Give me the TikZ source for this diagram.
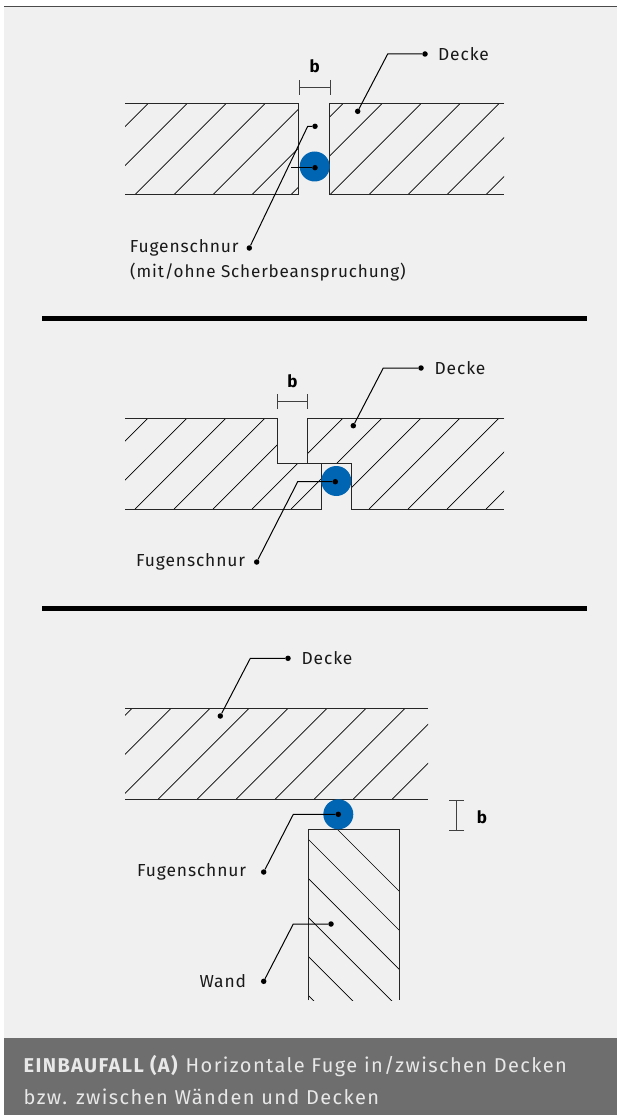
\documentclass[tikz,border=0pt]{standalone}
\usepackage{fontspec}
\setmainfont[LetterSpace=5.0]{Fira Sans}
\newfontfamily\captionfont[LetterSpace=7.0]{Fira Sans}
\usetikzlibrary{positioning,arrows.meta}
\definecolor{panelgrey}{HTML}{F0F0F0}
\definecolor{bandgrey}{HTML}{6E6E6E}
\definecolor{topgrey}{HTML}{4A4A4A}
\definecolor{cordblue}{HTML}{0066B3}
\definecolor{captiongrey}{HTML}{E8E8E8}
\begin{document}
\begin{tikzpicture}[x=1pt,y=-1pt]
	\tikzstyle{hatch} = [black, line width=0.7pt];
	\tikzstyle{outline} = [black!85, line width=1pt];
	\tikzstyle{cord} = [circle, fill=cordblue, inner sep=0pt, minimum size=30pt];
	\tikzstyle{tip} = [circle, fill=black, inner sep=0pt, minimum size=5.5pt];
	\tikzstyle{leader} = [black, line width=1pt];
	\tikzstyle{measure} = [black!75, line width=0.9pt, {Bar[width=15pt]}-{Bar[width=15pt]}];
	\tikzstyle{divider} = [black, line width=5.2pt];
	\tikzstyle{callout} = [inner sep=0pt, font=\fontsize{17.4}{20}\selectfont, text=black!90];
	\tikzstyle{dimtext} = [inner sep=0pt, font=\fontsize{17}{20}\selectfont\bfseries];
	\tikzstyle{caption} = [inner sep=0pt, anchor=west, text=captiongrey, font=\fontsize{20}{24}\captionfont];

	\useasboundingbox (0,0) rectangle (617,1115);
	\fill[panelgrey] (4,7) rectangle (617,1038);
	\fill[bandgrey] (4,1038) rectangle (617,1115);
	\draw[topgrey, line width=1.6pt] (4,6.5) -- (617,6.5);

	\draw[divider] (42,318.5) -- (587,318.5);
	\draw[divider] (42,608.7) -- (587,608.7);

	% first joint
	\begin{scope}
		\clip (125,104) rectangle (298.7,194.7) (329.7,104) rectangle (504,194.7);
		\foreach \k in {-3,...,10}
			\draw[hatch] (135+39*\k,194.7) -- (225.7+39*\k,104);
	\end{scope}
	\draw[outline] (125,104) -- (298.7,104) -- (298.7,194.7) -- (125,194.7);
	\draw[outline] (504,104) -- (329.7,104) -- (329.7,194.7) -- (504,194.7);
	\node[cord] (cordA) at (314.7,166.5) {};

	\node[tip] (deckeAend) at (357.7,111.3) {};
	\node[tip] (deckeAdot) at (425,54) {};
	\coordinate (deckeAbend) at (387.7,54);
	\node[callout, right=10pt of deckeAdot] (deckeA) {Decke};
	\draw[leader] (deckeAdot) -- (deckeAbend) -- (deckeAend);

	\node[tip] (fugeAdot) at (249.3,248) {};
	\node[tip] (fugeAup) at (315,126.3) {};
	\node[tip] (fugeAcord) at (315,167.7) {};
	\coordinate (fugeAbend) at (307.7,126.3);
	\coordinate (fugeAjoin) at (291,167.7);
	\draw[leader] (fugeAdot) -- (fugeAbend) -- (fugeAup);
	\draw[leader] (fugeAjoin) -- (fugeAcord);
	\node[callout, left=7.5pt of fugeAdot] (fugeA) {Fugenschnur};
	\node[callout, anchor=west, font=\fontsize{17.1}{20}\selectfont] (fugeAsub) at (130,272) {(mit/ohne Scherbeanspruchung)};

	\coordinate (bAl) at (298.7,87.3);
	\coordinate (bAr) at (330.5,87.3);
	\draw[measure] (bAl) -- (bAr);
	\node[dimtext, above=14pt of bAl, xshift=16pt] (bA) {b};

	% second joint
	\begin{scope}
		\clip (125,418.3) -- (277.3,418.3) -- (277.3,463.7) -- (321.3,463.7) -- (321.3,509) -- (125,509) -- cycle
			(307.7,418.3) -- (504,418.3) -- (504,509) -- (351.3,509) -- (351.3,463.7) -- (307.7,463.7) -- cycle;
		\foreach \k in {-3,...,10}
			\draw[hatch] (135+39*\k,509) -- (225.7+39*\k,418.3);
	\end{scope}
	\draw[outline] (125,418.3) -- (277.3,418.3) -- (277.3,463.7) -- (321.3,463.7) -- (321.3,509) -- (125,509);
	\draw[outline] (504,418.3) -- (307.7,418.3) -- (307.7,463.7) -- (351.3,463.7) -- (351.3,509) -- (504,509);
	\node[cord] (cordB) at (336.3,481) {};

	\node[tip] (deckeBend) at (353.3,425.7) {};
	\node[tip] (deckeBdot) at (421,368) {};
	\coordinate (deckeBbend) at (383.3,368);
	\node[callout, right=10.5pt of deckeBdot] (deckeB) {Decke};
	\draw[leader] (deckeBdot) -- (deckeBbend) -- (deckeBend);

	\node[tip] (fugeBdot) at (256.7,562) {};
	\node[tip] (fugeBcord) at (335.3,481.7) {};
	\coordinate (fugeBbend) at (297.7,481.7);
	\draw[leader] (fugeBdot) -- (fugeBbend) -- (fugeBcord);
	\node[callout, left=8.5pt of fugeBdot] (fugeB) {Fugenschnur};

	\coordinate (bBl) at (277,401.7);
	\coordinate (bBr) at (308.3,401.7);
	\draw[measure] (bBl) -- (bBr);
	\node[dimtext, above=14pt of bBl, xshift=15.5pt] (bB) {b};

	% ceiling and wall
	\begin{scope}
		\clip (125,708.3) rectangle (428,799);
		\foreach \k in {-3,...,8}
			\draw[hatch] (158.3+39*\k,799) -- (249+39*\k,708.3);
	\end{scope}
	\draw[outline] (125,708.3) -- (428,708.3);
	\draw[outline] (125,799) -- (428,799);

	\begin{scope}
		\clip (308.3,829.3) rectangle (399,1000);
		\foreach \k in {-1,...,6}
			\draw[hatch] (308.3,839.3+39*\k) -- (478.3,1009.3+39*\k);
	\end{scope}
	\draw[outline] (308.3,1000) -- (308.3,829.3) -- (399,829.3) -- (399,1000);
	\node[cord] (cordC) at (338.3,814.3) {};

	\node[tip] (deckeCend) at (220.3,716) {};
	\node[tip] (deckeCdot) at (288,658.3) {};
	\coordinate (deckeCbend) at (250.3,658.3);
	\node[callout, right=10.5pt of deckeCdot] (deckeC) {Decke};
	\draw[leader] (deckeCdot) -- (deckeCbend) -- (deckeCend);

	\node[tip] (fugeCdot) at (263.7,872) {};
	\node[tip] (fugeCcord) at (338.3,814.3) {};
	\coordinate (fugeCbend) at (293.3,814.3);
	\draw[leader] (fugeCdot) -- (fugeCbend) -- (fugeCcord);
	\node[callout, left=14.5pt of fugeCdot] (fugeC) {Fugenschnur};

	\node[tip] (wandDot) at (263.7,981.3) {};
	\node[tip] (wandEnd) at (331,924) {};
	\coordinate (wandBend) at (293.3,924);
	\draw[leader] (wandDot) -- (wandBend) -- (wandEnd);
	\node[callout, left=14.5pt of wandDot] (wand) {Wand};

	\coordinate (bCt) at (456.7,800);
	\coordinate (bCb) at (456.7,831);
	\draw[measure] (bCt) -- (bCb);
	\node[dimtext, right=20pt of bCt, yshift=-17pt] (bC) {b};

	% caption
	\node[caption] (captionA) at (23.5,1066.5) {\textbf{EINBAUFALL (A)} Horizontale Fuge in/zwischen Decken};
	\node[caption] (captionB) at (23.5,1096.5) {bzw. zwischen Wänden und Decken};
\end{tikzpicture}
\end{document}
